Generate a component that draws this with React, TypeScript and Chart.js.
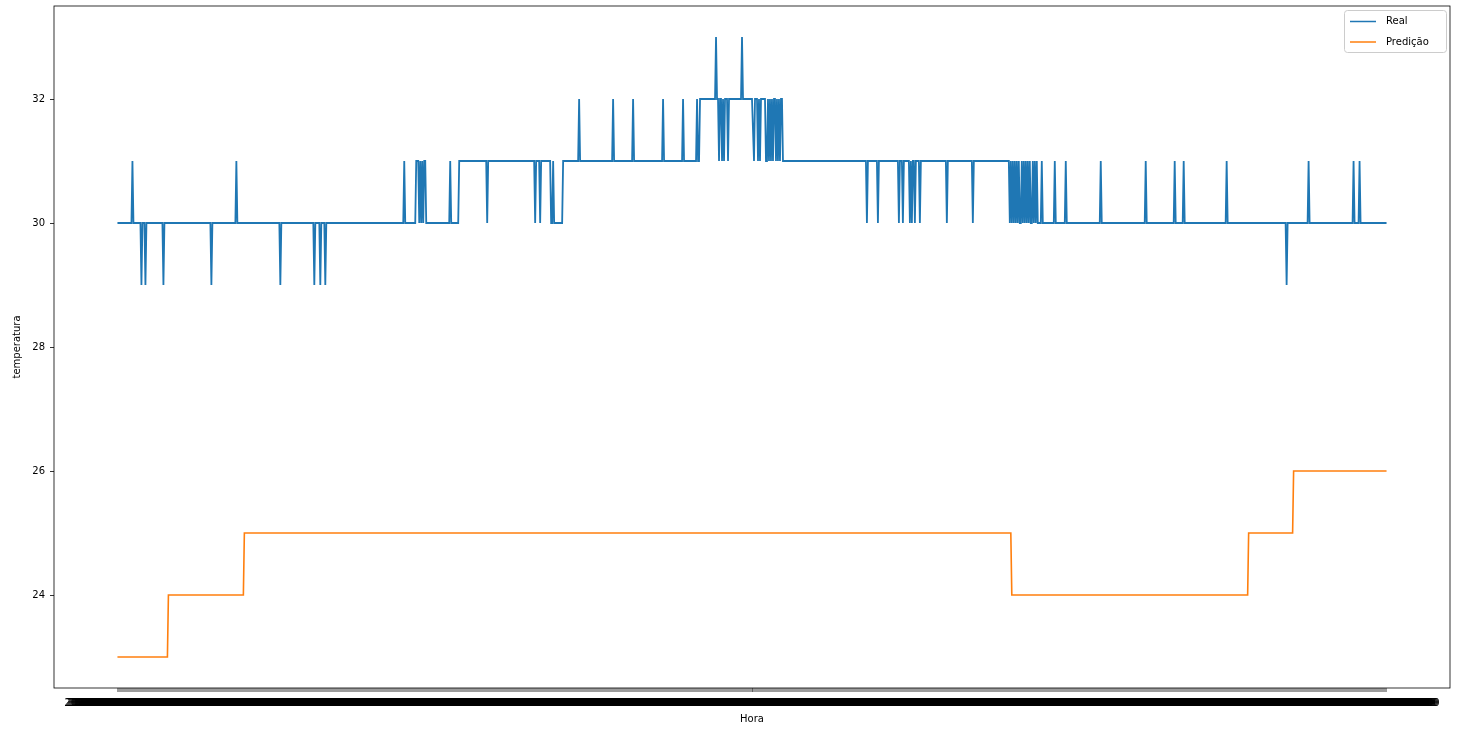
import React, { useEffect, useRef } from 'react';
import { Chart, registerables } from 'chart.js';

Chart.register(...registerables);

// ---- data ----
const N_POINTS = 1271;
const LABEL_DATE = '2021-11-10';
const LABEL_START_MINUTE = 180; // first sample 03:00:00, one sample per minute

// Base level of the "Real" series: [startIndex, value]
const REAL_LEVELS: [number, number][] = [
  [0, 30], [342, 31], [583, 32], [666, 31], [926, 30],
];
// Single-sample readings that depart from the base level: [index, value]
const REAL_SPIKES: [number, number][] = [
  [15, 31], [24, 29], [28, 29], [46, 29], [94, 29], [119, 31], [163, 29], [197, 29], [203, 29], [208, 29],
  [287, 31], [299, 31], [300, 31], [301, 31], [303, 31], [305, 31], [307, 31], [308, 31], [333, 31],
  [370, 30], [418, 30], [423, 30], [434, 30], [435, 30], [437, 30], [438, 30], [439, 30], [440, 30],
  [441, 30], [442, 30], [443, 30], [444, 30], [445, 30],
  [462, 32], [496, 32], [516, 32], [546, 32], [566, 32], [580, 32],
  [599, 33], [602, 31], [605, 31], [607, 31], [611, 31], [625, 33], [637, 31], [641, 31], [643, 31],
  [649, 31], [650, 31], [652, 31], [654, 31], [656, 31], [659, 31], [661, 31], [663, 31],
  [750, 30], [761, 30], [782, 30], [786, 30], [793, 30], [795, 30], [798, 30], [803, 30], [830, 30], [856, 30],
  [893, 30], [895, 30], [897, 30], [899, 30], [901, 30], [903, 30], [904, 30], [906, 30], [908, 30],
  [910, 30], [912, 30], [914, 30], [915, 30], [917, 30], [919, 30], [921, 30], [922, 30], [923, 30], [924, 30],
  [938, 31], [949, 31], [984, 31], [1029, 31], [1058, 31], [1067, 31], [1110, 31], [1170, 29],
  [1192, 31], [1237, 31], [1243, 31],
];
// "Predição" step levels: [startIndex, value]
const PRED_LEVELS: [number, number][] = [
  [0, 23], [51, 24], [127, 25], [895, 24], [1132, 25], [1177, 26],
];
const Y_TICKS = [24, 26, 28, 30, 32];

const pad2 = (n: number) => (n < 10 ? '0' : '') + n;
const X_LABELS: string[] = Array.from({ length: N_POINTS }, (_, i) => {
  const m = LABEL_START_MINUTE + i;
  return `${LABEL_DATE} ${pad2(Math.floor(m / 60) % 24)}:${pad2(m % 60)}:00`;
});

function expandLevels(levels: [number, number][], n: number): number[] {
  const out: number[] = [];
  let k = 0;
  for (let i = 0; i < n; i++) {
    while (k + 1 < levels.length && levels[k + 1][0] <= i) k++;
    out.push(levels[k][1]);
  }
  return out;
}

const realValues = expandLevels(REAL_LEVELS, N_POINTS);
REAL_SPIKES.forEach(([i, v]) => { realValues[i] = v; });
const predValues = expandLevels(PRED_LEVELS, N_POINTS);

const BLUE = '#1f77b4';
const ORANGE = '#ff7f0e';
const FONT = 'DejaVu Sans';

const framePlugin = {
  id: 'frameAndLegend',
  afterDraw(chart: any) {
    const { ctx, chartArea } = chart;
    ctx.save();
    ctx.strokeStyle = '#000';
    ctx.lineWidth = 0.8;
    ctx.strokeRect(chartArea.left, chartArea.top, chartArea.right - chartArea.left, chartArea.bottom - chartArea.top);

    // legend
    const bx = 1344, by = 10, bw = 102, bh = 42;
    ctx.beginPath();
    (ctx as any).roundRect(bx + 0.5, by + 0.5, bw, bh, 3);
    ctx.fillStyle = 'rgba(255,255,255,0.8)';
    ctx.fill();
    ctx.strokeStyle = '#cccccc';
    ctx.lineWidth = 1;
    ctx.stroke();
    const items: [string, string, number][] = [['Real', BLUE, 21.5], ['Predição', ORANGE, 42]];
    ctx.font = `10px "${FONT}"`;
    ctx.textBaseline = 'middle';
    ctx.textAlign = 'left';
    items.forEach(([t, c, y]) => {
      ctx.strokeStyle = c;
      ctx.lineWidth = 1.5;
      ctx.beginPath();
      ctx.moveTo(1350, y);
      ctx.lineTo(1376, y);
      ctx.stroke();
      ctx.fillStyle = '#000';
      ctx.fillText(t, 1386, y);
    });
    ctx.restore();
  },
};

function zeroPad(scale: any) {
  scale.paddingTop = 0;
  scale.paddingBottom = 0;
  scale.paddingLeft = 0;
  scale.paddingRight = 0;
}

export default function App() {
  const ref = useRef<HTMLCanvasElement | null>(null);
  useEffect(() => {
    if (!ref.current) return;
    const last = N_POINTS - 1;
    const chart = new Chart(ref.current, {
      type: 'line',
      data: {
        datasets: [
          {
            label: 'Real',
            data: realValues.map((v, i) => ({ x: i, y: v })),
            borderColor: BLUE,
            backgroundColor: BLUE,
            borderWidth: 1.8,
            pointRadius: 0,
            tension: 0,
            fill: false,
          },
          {
            label: 'Predição',
            data: predValues.map((v, i) => ({ x: i, y: v })),
            borderColor: ORANGE,
            backgroundColor: ORANGE,
            borderWidth: 1.6,
            pointRadius: 0,
            tension: 0,
            fill: false,
          },
        ],
      },
      options: {
        responsive: false,
        animation: false,
        events: [],
        parsing: false,
        normalized: true,
        layout: { padding: { left: 0, right: 8, top: 6, bottom: 0 } },
        plugins: { legend: { display: false }, tooltip: { enabled: false }, title: { display: false } },
        font: { family: FONT, size: 10 },
        scales: {
          x: {
            type: 'linear',
            min: -0.05 * last,
            max: 1.05 * last,
            grid: { display: true, drawOnChartArea: false, drawTicks: true, tickLength: 4, color: 'rgba(0,0,0,0.65)', lineWidth: 0.6 },
            border: { display: false },
            ticks: {
              autoSkip: false,
              maxRotation: 0,
              minRotation: 0,
              padding: 5,
              color: '#000',
              font: { family: FONT, size: 10 },
              callback: (v: any) => X_LABELS[v] ?? '',
            },
            afterBuildTicks: (scale: any) => {
              scale.ticks = X_LABELS.map((_, i) => ({ value: i }));
            },
            afterFit: (scale: any) => {
              scale.height = 41;
              zeroPad(scale);
            },
            title: { display: true, text: 'Hora', color: '#000', font: { family: FONT, size: 10 }, padding: { top: 0, bottom: 4 } },
          },
          y: {
            type: 'linear',
            min: 22.5,
            max: 33.5,
            grid: { display: true, drawOnChartArea: false, drawTicks: true, tickLength: 4, color: '#000', lineWidth: 0.8 },
            border: { display: false },
            ticks: {
              padding: 5,
              color: '#000',
              font: { family: FONT, size: 10 },
              callback: (v: any) => String(v),
            },
            afterBuildTicks: (scale: any) => {
              scale.ticks = Y_TICKS.map((v) => ({ value: v }));
            },
            afterFit: (scale: any) => {
              scale.width = 54;
              zeroPad(scale);
            },
            title: { display: true, text: 'temperatura', color: '#000', font: { family: FONT, size: 10 }, padding: { top: 11, bottom: 0 } },
          },
        },
      },
      plugins: [framePlugin],
    } as any);
    return () => chart.destroy();
  }, []);

  return (
    <div style={{ position: 'fixed', left: 0, top: 0, width: 1458, height: 729, background: '#fff' }}>
      <canvas ref={ref} width={1458} height={729} style={{ width: 1458, height: 729, display: 'block' }} />
    </div>
  );
}
